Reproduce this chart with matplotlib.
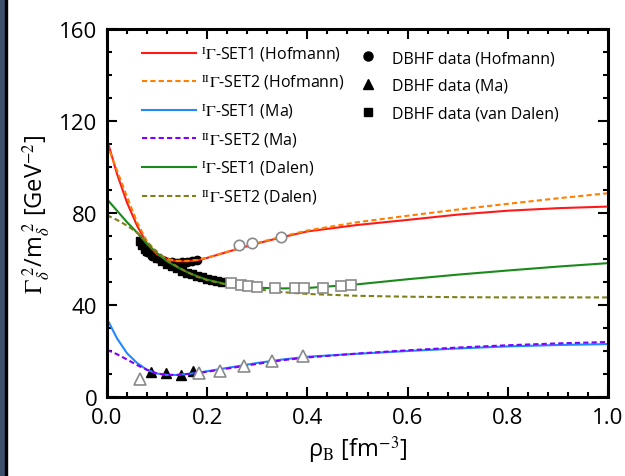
import numpy as np
import matplotlib
matplotlib.use("Agg")
import matplotlib.pyplot as plt
from matplotlib.patches import Rectangle
from matplotlib.lines import Line2D

plt.rcParams['font.family'] = ['Open Sans', 'DejaVu Sans']
plt.rcParams['mathtext.fontset'] = 'stix'

# density grid for the fitted curves (fm^-3)
rho = [0.0, 0.02, 0.04, 0.06, 0.08, 0.10, 0.12, 0.14, 0.16, 0.18, 0.20,
       0.25, 0.30, 0.35, 0.40, 0.50, 0.60, 0.70, 0.80, 0.90, 1.00]

set1_hof = [112, 97, 84.5, 74.5, 66.5, 62.0, 59.8, 59.0, 59.0, 59.4, 60.5,
            63.7, 66.8, 69.5, 72.0, 74.8, 77.0, 79.3, 81.0, 82.1, 82.8]
set2_hof = [110, 98.5, 87, 76, 67.5, 62.4, 60.0, 59.2, 59.2, 59.6, 60.6,
            63.8, 67.0, 69.8, 72.4, 76.0, 78.8, 81.5, 84.0, 86.4, 88.6]
set1_ma = [34, 25.5, 19.0, 14.8, 11.8, 10.2, 9.6, 9.6, 10.0, 10.5, 11.2,
           13.0, 14.8, 16.3, 17.5, 18.8, 20.0, 21.1, 22.0, 22.6, 23.0]
set2_ma = [20.5, 18.6, 16.3, 13.9, 11.8, 10.2, 9.6, 9.6, 10.0, 10.4, 11.0,
           12.7, 14.4, 16.0, 17.2, 18.9, 20.3, 21.5, 22.5, 23.3, 23.9]
set1_dal = [86, 81, 76, 71.5, 66.5, 62.5, 59.0, 56.5, 54.3, 52.5, 51.0,
            48.5, 47.5, 47.2, 47.4, 49.0, 51.2, 53.2, 55.0, 56.7, 58.2]
set2_dal = [79, 77, 74.5, 71.5, 67.5, 63.0, 59.5, 56.7, 54.3, 52.3, 50.8,
            48.3, 46.8, 45.6, 44.8, 44.0, 43.6, 43.4, 43.3, 43.3, 43.3]

# DBHF data, filled = used in fit, open = other
hof_fill_x = [0.07, 0.08, 0.09, 0.10, 0.11, 0.12, 0.13, 0.14, 0.15, 0.16, 0.17, 0.18]
hof_fill_y = [66.0, 63.0, 61.5, 60.5, 59.5, 58.8, 58.5, 58.3, 58.5, 58.8, 59.2, 59.5]
hof_open_x = [0.264, 0.289, 0.348]
hof_open_y = [66.1, 67.1, 69.5]

ma_fill_x = [0.087, 0.117, 0.147, 0.171]
ma_fill_y = [10.9, 10.6, 9.7, 11.2]
ma_open_x = [0.066, 0.184, 0.225, 0.273, 0.329, 0.391]
ma_open_y = [7.8, 10.4, 11.3, 13.5, 15.7, 17.8]

dal_fill_x = [0.065, 0.07, 0.075, 0.08, 0.09, 0.10, 0.11, 0.12, 0.13, 0.14,
              0.15, 0.16, 0.17, 0.18, 0.19, 0.20, 0.21, 0.22, 0.23]
dal_fill_y = [68.0, 66.0, 64.5, 63.5, 62.0, 60.5, 59.0, 58.0, 57.0, 56.0,
              55.0, 54.0, 53.5, 52.5, 52.0, 51.5, 51.0, 50.5, 50.0]
dal_open_x = [0.247, 0.267, 0.282, 0.300, 0.336, 0.375, 0.394, 0.431, 0.468, 0.487]
dal_open_y = [49.4, 48.6, 48.3, 47.8, 47.2, 47.2, 47.2, 47.5, 48.3, 48.6]

fig = plt.figure(figsize=(6.25, 4.77), dpi=100)
ax = fig.add_axes([107/625, 1 - 398/477, 501/625, 368/477])

# dark frame strip on the left edge
fig.patches.append(Rectangle((0, 0), 5/625, 1, transform=fig.transFigure,
                             color='#3b506b', zorder=0))
fig.patches.append(Rectangle((5/625, 0), 2/625, 1, transform=fig.transFigure,
                             color='black', zorder=0))

ax.plot(hof_fill_x, hof_fill_y, 'o', color='black', ms=6, zorder=1)
ax.plot(ma_fill_x, ma_fill_y, '^', color='black', ms=6.5, zorder=1)
ax.plot(dal_fill_x, dal_fill_y, 's', color='black', ms=6, zorder=1)

lw = 1.5
curves = [
    (set1_hof, '#ff1a1a', '-', r'$^{\mathrm{I}}\Gamma$-SET1 (Hofmann)'),
    (set2_hof, '#ff8000', '--', r'$^{\mathrm{II}}\Gamma$-SET2 (Hofmann)'),
    (set1_ma, '#2288ff', '-', r'$^{\mathrm{I}}\Gamma$-SET1 (Ma)'),
    (set2_ma, '#7f00ff', '--', r'$^{\mathrm{II}}\Gamma$-SET2 (Ma)'),
    (set1_dal, '#1a8a1a', '-', r'$^{\mathrm{I}}\Gamma$-SET1 (Dalen)'),
    (set2_dal, '#80801a', '--', r'$^{\mathrm{II}}\Gamma$-SET2 (Dalen)'),
]
line_handles = []
for ys, c, ls, lab in curves:
    h, = ax.plot(rho, ys, color=c, ls=ls, lw=lw,
                 dashes=(2.5, 1.5) if ls == '--' else (None, None),
                 label=lab, zorder=2)
    line_handles.append(h)

opn = dict(ls='none', mfc='white', mec='#8a8a8a', mew=1.2, zorder=3)
ax.plot(hof_open_x, hof_open_y, 'o', ms=7.5, **opn)
ax.plot(ma_open_x, ma_open_y, '^', ms=8, **opn)
ax.plot(dal_open_x, dal_open_y, 's', ms=7.5, **opn)

ax.set_xlim(0, 1.0)
ax.set_ylim(0, 160)
ax.set_xticks([0, 0.2, 0.4, 0.6, 0.8, 1.0])
ax.set_xticklabels(['0.0', '0.2', '0.4', '0.6', '0.8', '1.0'])
ax.set_yticks([0, 40, 80, 120, 160])
ax.set_xticks(np.arange(0, 1.0001, 0.04), minor=True)
ax.set_yticks(np.arange(0, 160.1, 10), minor=True)
ax.tick_params(which='both', direction='in', top=True, right=True, width=1.5,
               labelsize=16)
ax.tick_params(axis='x', pad=7)
ax.tick_params(axis='y', pad=7)
ax.tick_params(which='major', length=7)
ax.tick_params(which='minor', length=3.5)
for s in ax.spines.values():
    s.set_linewidth(2.2)

ax.set_xlabel(r'ρ$_{\mathrm{B}}$ [fm$^{\mathrm{-3}}$]', fontsize=17, labelpad=4)
ax.set_ylabel(r'$\Gamma_\delta^{\ \mathrm{2}}$/m$_\delta^{\ \mathrm{2}}$ [GeV$^{\mathrm{-2}}$]',
              fontsize=17, labelpad=4)

leg1 = ax.legend(handles=line_handles, loc='upper left',
                 bbox_to_anchor=(142/625, 1 - 45/477), bbox_transform=fig.transFigure,
                 frameon=False, fontsize=11.5, handlelength=3.4, handletextpad=0.3,
                 labelspacing=0.63, borderpad=0, borderaxespad=0)
ax.add_artist(leg1)

mk_handles = [
    Line2D([], [], ls='none', marker='o', color='black', ms=6.5, label='DBHF data (Hofmann)'),
    Line2D([], [], ls='none', marker='^', color='black', ms=7, label='DBHF data (Ma)'),
    Line2D([], [], ls='none', marker='s', color='black', ms=6, label='DBHF data (van Dalen)'),
]
ax.legend(handles=mk_handles, loc='upper left',
          bbox_to_anchor=(360/625, 1 - 51/477), bbox_transform=fig.transFigure,
          frameon=False, fontsize=11.5, handlelength=1.0, handletextpad=1.0,
          labelspacing=0.75, borderpad=0, borderaxespad=0)

fig.savefig('out.png', dpi=100)
